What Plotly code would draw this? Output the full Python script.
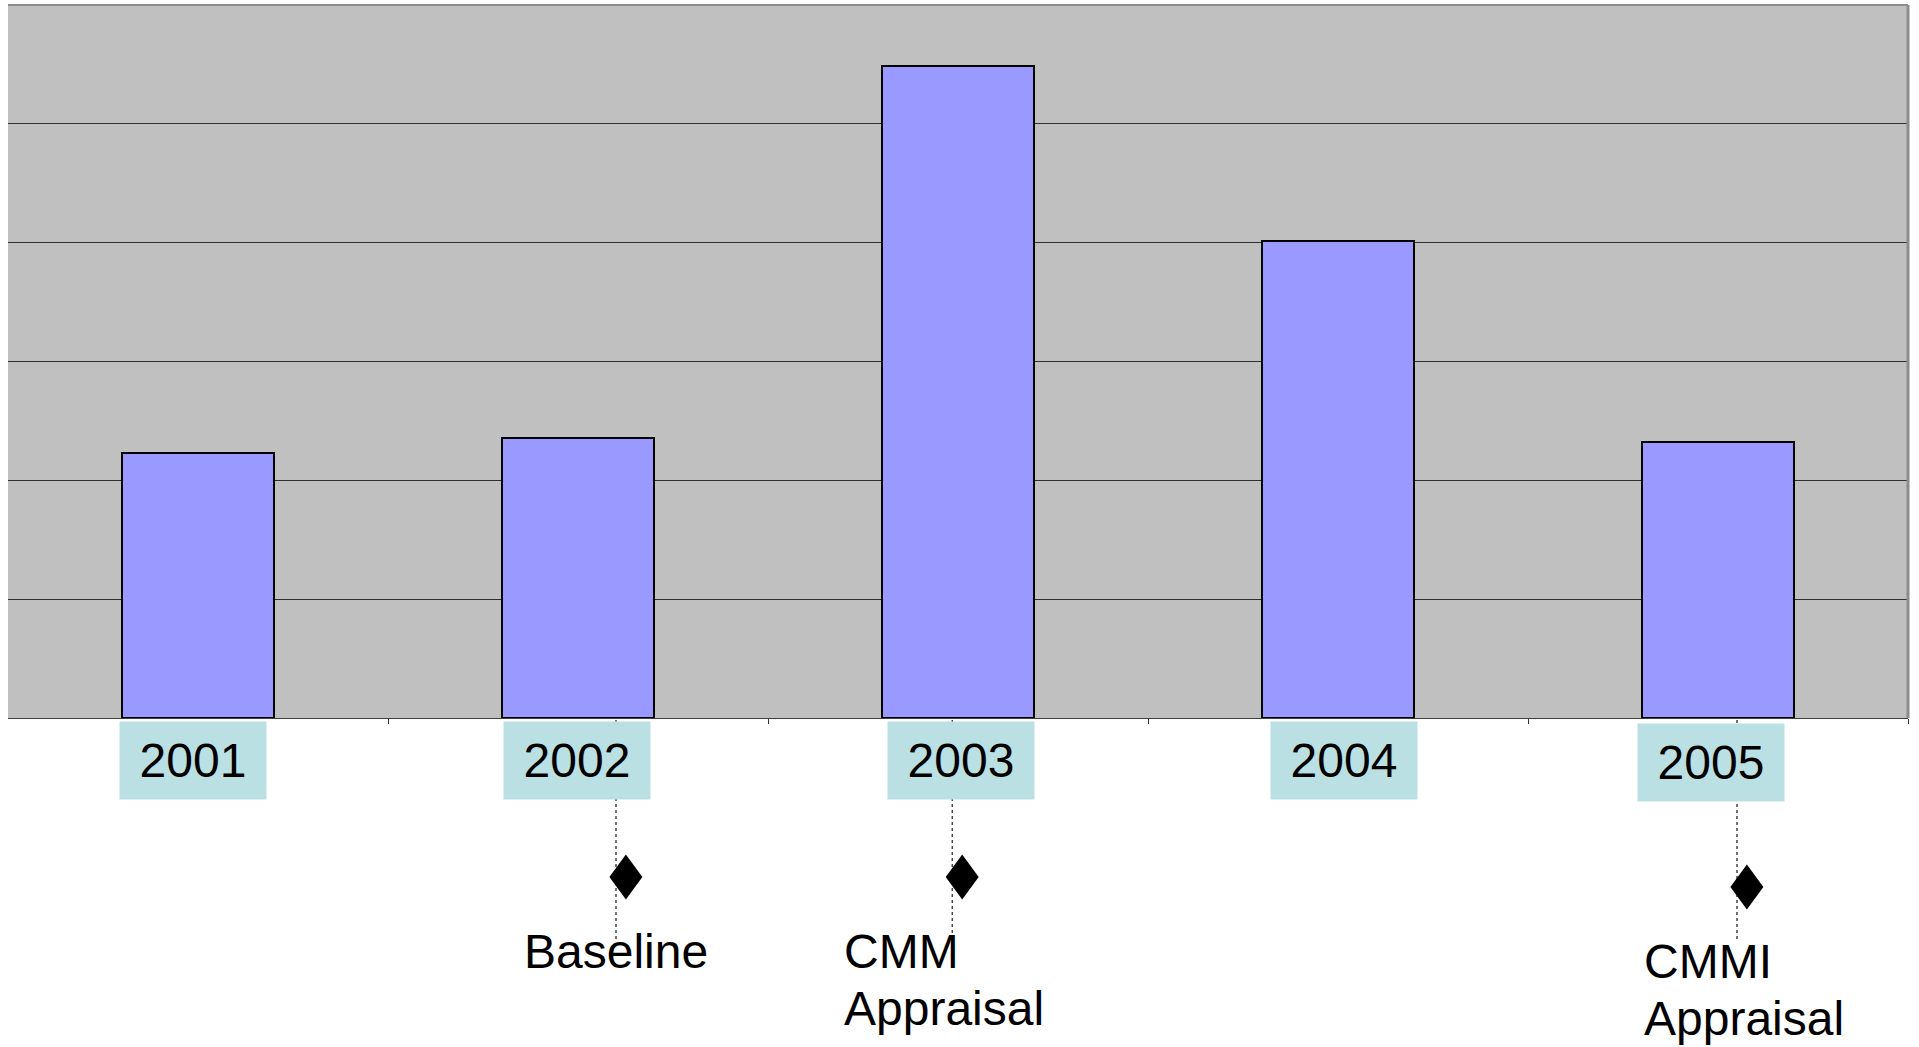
import plotly.graph_objects as go

# ---- data ----
years = [2001, 2002, 2003, 2004, 2005]
values = [2.23, 2.355, 5.49, 4.01, 2.325]
year_labels = ["2001", "2002", "2003", "2004", "2005"]

milestone_pos = [2002.10, 2002.985, 2005.05]
milestone_names = ["Baseline", "CMM\nAppraisal", "CMMI\nAppraisal"]

# ---- canvas geometry (pixels) ----
W, H = 1919, 1047
PLOT_L, PLOT_R = 8, 1908
PLOT_T, PLOT_B = 5, 718


def py(px):
    """pixel row -> paper y"""
    return 1 - px / H


def px_to_y2(px):
    """pixel row -> lower (milestone) axis units, 0 at the bottom, 1 at the x axis"""
    return (H - px) / (H - PLOT_B)


x_dom = [PLOT_L / W, PLOT_R / W]
y_dom = [py(PLOT_B), py(PLOT_T)]

FONT = "Arial, 'Liberation Sans', sans-serif"
FONT_SIZE = 48
ASCENT = 0.905          # font ascent in em, used to place caption baselines
LABEL_BOX = "#BBE0E3"
BAR_FILL = "#9999FF"

fig = go.Figure()

fig.add_trace(go.Bar(
    x=years, y=values, width=0.4,
    marker=dict(color=BAR_FILL, line=dict(color="black", width=2)),
    xaxis="x", yaxis="y", hoverinfo="skip", showlegend=False,
))

# dotted milestone drop lines
line_top, line_bottom = px_to_y2(720), px_to_y2(942)
for xpos in milestone_pos:
    fig.add_trace(go.Scatter(
        x=[xpos, xpos], y=[line_top, line_bottom], mode="lines",
        line=dict(color="#444444", width=1.5, dash="dot"),
        xaxis="x2", yaxis="y2", hoverinfo="skip", showlegend=False,
    ))

shapes = [
    # gray plot area
    dict(type="rect", xref="x domain", yref="y domain", x0=0, x1=1, y0=0, y1=1,
         fillcolor="#C0C0C0", line=dict(width=0), layer="below"),
    # top and right frame
    dict(type="line", xref="paper", yref="paper", x0=x_dom[0], x1=x_dom[1],
         y0=y_dom[1], y1=y_dom[1], line=dict(color="#8C8C8C", width=2)),
    dict(type="line", xref="paper", yref="paper", x0=x_dom[1], x1=x_dom[1],
         y0=y_dom[0], y1=y_dom[1], line=dict(color="#8C8C8C", width=3)),
]

# diamond markers beside each drop line
diamond_dx = 0.026
diamond_rows = [877, 877, 887]
for xpos, row in zip(milestone_pos, diamond_rows):
    shapes.append(dict(
        type="path", xref="x2", yref="y2",
        xsizemode="pixel", ysizemode="pixel",
        xanchor=xpos + diamond_dx, yanchor=px_to_y2(row),
        path="M0,-22.5 L16.5,0 L0,22.5 L-16.5,0 Z",
        fillcolor="black", line=dict(color="black", width=0),
    ))

annotations = []
# year boxes under the bars
box_dx = [-5, -1, 3, 6, -7]
box_dy = [0, 0, 0, 0, -2]
for yr, lab, dx, dy in zip(years, year_labels, box_dx, box_dy):
    annotations.append(dict(
        x=yr, y=py(760.5), xref="x", yref="paper", text=lab, showarrow=False,
        xanchor="center", yanchor="middle", xshift=dx, yshift=dy,
        width=146, height=77, bgcolor=LABEL_BOX, borderpad=0,
        font=dict(family=FONT, size=FONT_SIZE, color="black"), valign="middle",
    ))

# milestone captions, one annotation per line (tighter leading than <br>)
LEADING = 57
cap_anchor = ["center", "left", "left"]
cap_dx = [0, -110, -95]
cap_baseline = [967, 967.5, 977]
for xpos, name, anch, dx, base in zip(milestone_pos, milestone_names,
                                      cap_anchor, cap_dx, cap_baseline):
    for k, line in enumerate(name.split("\n")):
        top = base + k * LEADING - ASCENT * FONT_SIZE - 1
        annotations.append(dict(
            x=xpos, y=py(top), xref="x2", yref="paper", text=line,
            showarrow=False, xanchor=anch, yanchor="top", xshift=dx,
            align="left", font=dict(family=FONT, size=FONT_SIZE, color="black"),
        ))

fig.update_layout(
    width=W, height=H,
    margin=dict(l=0, r=0, t=0, b=0, pad=0),
    paper_bgcolor="white", plot_bgcolor="rgba(0,0,0,0)",
    font=dict(family=FONT),
    bargap=0,
    xaxis=dict(
        domain=x_dom, anchor="y", range=[2000.5, 2005.5],
        tickvals=[2001.5, 2002.5, 2003.5, 2004.5, 2005.5],
        ticks="outside", ticklen=5, tickwidth=1, tickcolor="#333333",
        showticklabels=False, showgrid=False, zeroline=False,
        showline=True, linecolor="#404040", linewidth=1,
    ),
    yaxis=dict(
        domain=y_dom, anchor="x", range=[0, 6], dtick=1,
        showgrid=True, gridcolor="#303030", gridwidth=1,
        showticklabels=False, zeroline=False, showline=False, ticks="",
    ),
    xaxis2=dict(domain=x_dom, anchor="y2", matches="x", visible=False),
    yaxis2=dict(domain=[0, y_dom[0]], anchor="x2", range=[0, 1], visible=False),
    shapes=shapes,
    annotations=annotations,
    showlegend=False,
)

fig.write_html("out.html")
